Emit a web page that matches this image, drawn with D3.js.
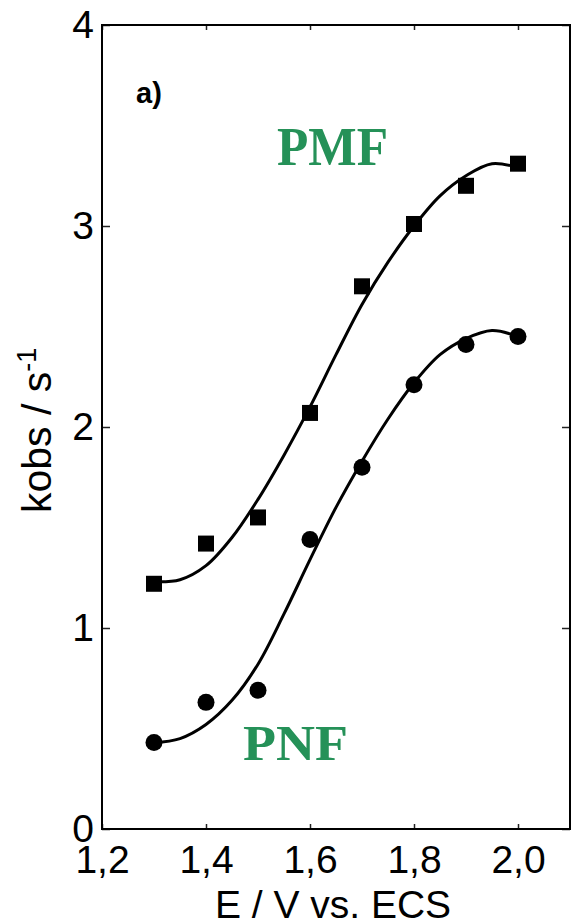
<!DOCTYPE html>
<html>
<head>
<meta charset="utf-8">
<script src="https://cdn.jsdelivr.net/npm/d3@7"></script>
<style>
  body { margin: 0; background: #fff; }
  svg text { font-family: "Liberation Sans", Arial, sans-serif; }
</style>
</head>
<body>
<div id="chart"></div>
<script>
// measured points
var potentials = [1.3, 1.4, 1.5, 1.6, 1.7, 1.8, 1.9, 2.0];
var pmfValues = [1.22, 1.42, 1.55, 2.07, 2.70, 3.01, 3.20, 3.31];
var pnfValues = [0.43, 0.63, 0.69, 1.44, 1.80, 2.21, 2.41, 2.45];

// fitted curves
var fitPotentials = [1.30, 1.35, 1.40, 1.45, 1.50, 1.55, 1.60, 1.65, 1.70, 1.75, 1.80, 1.85, 1.90, 1.95, 2.00];
var pmfFit = [1.23, 1.24, 1.31, 1.45, 1.64, 1.86, 2.10, 2.36, 2.61, 2.82, 3.00, 3.15, 3.25, 3.31, 3.29];
var pnfFit = [0.43, 0.45, 0.52, 0.64, 0.82, 1.07, 1.34, 1.60, 1.83, 2.04, 2.22, 2.36, 2.44, 2.48, 2.45];

var xTicks = [1.2, 1.4, 1.6, 1.8, 2.0];
var yTicks = [0, 1, 2, 3, 4];

var W = 571, H = 919;
var margin = { top: 25, right: 1, bottom: 90, left: 102 };
var w = W - margin.left - margin.right,
  h = H - margin.top - margin.bottom;

var svg = d3.select("#chart").append("svg")
  .attr("width", W)
  .attr("height", H);

var g = svg.append("g")
  .attr("transform", "translate(" + margin.left + "," + margin.top + ")");

var x = d3.scaleLinear().domain([1.2, 2.1]).range([0, w]);
var y = d3.scaleLinear().domain([0, 4]).range([h, 0]);

var comma = function (d) { return d3.format(".1f")(d).replace(".", ","); };

// axes with inward ticks
var xAxis = g.append("g")
  .attr("transform", "translate(0," + h + ")")
  .call(d3.axisBottom(x).tickValues(xTicks).tickSize(-5).tickPadding(16).tickFormat(comma));
var xTop = g.append("g")
  .call(d3.axisTop(x).tickValues(xTicks).tickSize(-5).tickFormat(""));
var yAxis = g.append("g")
  .call(d3.axisLeft(y).tickValues(yTicks).tickSize(-8).tickPadding(8).tickFormat(d3.format("d")));
var yRight = g.append("g")
  .attr("transform", "translate(" + w + ",0)")
  .call(d3.axisRight(y).tickValues(yTicks).tickSize(-8).tickFormat(""));

[xAxis, xTop, yAxis, yRight].forEach(function (a) {
  a.select(".domain").remove();
  a.selectAll(".tick line").attr("stroke", "#222").attr("stroke-width", 1.5);
  a.selectAll("text").attr("font-size", 39).attr("fill", "#000")
    .style("font-family", "'Liberation Sans', Arial, sans-serif");
});

// frame
g.append("rect")
  .attr("width", w)
  .attr("height", h)
  .attr("fill", "none")
  .attr("stroke", "#000")
  .attr("stroke-width", 2);

// fit lines
var line = d3.line()
  .x(function (d) { return x(d[0]); })
  .y(function (d) { return y(d[1]); })
  .curve(d3.curveCatmullRom);

[pmfFit, pnfFit].forEach(function (fit) {
  g.append("path")
    .datum(d3.zip(fitPotentials, fit))
    .attr("d", line)
    .attr("fill", "none")
    .attr("stroke", "#000")
    .attr("stroke-width", 3);
});

// markers
g.selectAll(".sq")
  .data(d3.zip(potentials, pmfValues))
  .join("rect")
  .attr("class", "sq")
  .attr("x", function (d) { return x(d[0]) - 8; })
  .attr("y", function (d) { return y(d[1]) - 8; })
  .attr("width", 16)
  .attr("height", 16)
  .attr("fill", "#000");

g.selectAll(".dot")
  .data(d3.zip(potentials, pnfValues))
  .join("circle")
  .attr("class", "dot")
  .attr("cx", function (d) { return x(d[0]); })
  .attr("cy", function (d) { return y(d[1]); })
  .attr("r", 8.5)
  .attr("fill", "#000");

// labels
svg.append("text")
  .attr("x", 136).attr("y", 103)
  .attr("font-size", 29).attr("font-weight", "bold")
  .text("a)");

svg.append("text")
  .attr("x", 277).attr("y", 165)
  .attr("font-size", 54).attr("font-weight", "bold")
  .attr("textLength", 111).attr("lengthAdjust", "spacingAndGlyphs")
  .style("font-family", "'Liberation Serif', 'Times New Roman', serif")
  .attr("fill", "#259158")
  .text("PMF");

svg.append("text")
  .attr("x", 243).attr("y", 760)
  .attr("font-size", 50).attr("font-weight", "bold")
  .attr("textLength", 105).attr("lengthAdjust", "spacingAndGlyphs")
  .style("font-family", "'Liberation Serif', 'Times New Roman', serif")
  .attr("fill", "#259158")
  .text("PNF");

svg.append("text")
  .attr("x", 333).attr("y", 918)
  .attr("text-anchor", "middle")
  .attr("font-size", 39)
  .text("E / V vs. ECS");

var ylab = svg.append("text")
  .attr("transform", "translate(51,513) rotate(-90)")
  .attr("font-size", 41);
ylab.append("tspan").text("kobs / s");
ylab.append("tspan").attr("dy", -15).attr("font-size", 27).text("-1");
</script>
</body>
</html>
